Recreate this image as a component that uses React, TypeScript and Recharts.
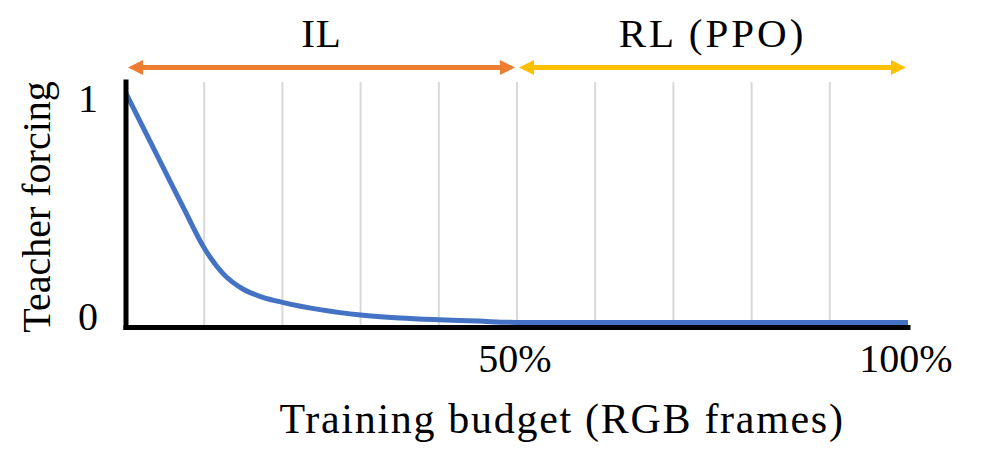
import React from "react";
import {
  ComposedChart,
  Line,
  XAxis,
  YAxis,
  ReferenceLine,
} from "recharts";

// ---- data ----
const budgetPct = [0, 2.5, 5, 7.5, 10, 12.5, 15, 17.5, 20, 25, 30, 35, 40, 45, 50, 60, 70, 80, 90, 100];
const teacherForcing = [1.0, 0.83, 0.66, 0.49, 0.325, 0.21, 0.145, 0.11, 0.088, 0.055, 0.033, 0.02, 0.012, 0.006, 0, 0, 0, 0, 0, 0];
const gridTicks = [10, 20, 30, 40, 50, 60, 70, 80, 90];
const xTicks = [50, 100];
const yTicks = [0, 1];
const phases = [
  { name: "IL", from: 0, to: 50, color: "#ED7D31" },
  { name: "RL (PPO)", from: 50, to: 100, color: "#FFC000" },
];
const phaseLevel = 1.1135;
const xTitle = "Training budget (RGB frames)";
const yTitle = "Teacher forcing";

const data = budgetPct.map((x, i) => ({ x, y: teacherForcing[i] }));

const FONT = "'Liberation Serif', 'DejaVu Serif', serif";

const ArrowShape = (color: string, label: string) => (props: any) => {
  const { x1, y1, x2 } = props;
  const y = y1;
  const ax1 = x1 + 2;
  const ax2 = x2 - 2;
  const hl = 15;
  const hh = 7.5;
  return (
    <g>
      <line x1={ax1 + hl - 2} y1={y} x2={ax2 - hl + 2} y2={y} stroke={color} strokeWidth={5} />
      <polygon points={`${ax1},${y} ${ax1 + hl},${y - hh} ${ax1 + hl},${y + hh}`} fill={color} />
      <polygon points={`${ax2},${y} ${ax2 - hl},${y - hh} ${ax2 - hl},${y + hh}`} fill={color} />
      <text
        x={(x1 + x2) / 2}
        y={y - 20}
        textAnchor="middle"
        fontFamily={FONT}
        fontSize={41}
        letterSpacing={label.length > 2 ? 3 : 1}
        fill="#000"
      >
        {label}
      </text>
    </g>
  );
};

const XTick = (props: any) => {
  const { x, y, payload } = props;
  return (
    <text x={x - 2} y={y + 44} textAnchor="middle" fontFamily={FONT} fontSize={40} fill="#000">
      {`${payload.value}%`}
    </text>
  );
};

const YTick = (props: any) => {
  const { x, y, payload } = props;
  const dy = payload.value === 1 ? 18.5 : 7.5;
  return (
    <text x={x - 38} y={y + dy} textAnchor="middle" fontFamily={FONT} fontSize={40} fill="#000">
      {payload.value}
    </text>
  );
};

const XTitle = (props: any) => {
  const vb = props.viewBox || { x: 126, y: 327.5, width: 782 };
  return (
    <text
      x={vb.x + vb.width / 2 + 45}
      y={vb.y + 105}
      textAnchor="middle"
      fontFamily={FONT}
      fontSize={42}
      letterSpacing={1.7}
      fill="#000"
    >
      {xTitle}
    </text>
  );
};

const YTitle = () => {
  const cx = 50;
  const cy = 207;
  return (
    <text
      x={cx}
      y={cy}
      transform={`rotate(-90 ${cx} ${cy})`}
      textAnchor="middle"
      fontFamily={FONT}
      fontSize={40}
      fill="#000"
    >
      {yTitle}
    </text>
  );
};

export default function App() {
  return (
    <div style={{ width: 987, height: 472, background: "#fff" }}>
      <style>{`body{margin:0;}`}</style>
      <ComposedChart
        width={987}
        height={472}
        data={data}
        margin={{ top: 82, right: 79, bottom: 0, left: 0 }}
      >
        <XAxis
          dataKey="x"
          type="number"
          domain={[0, 100]}
          ticks={xTicks}
          tick={<XTick />}
          tickLine={false}
          tickSize={0}
          tickMargin={0}
          axisLine={{ stroke: "#000", strokeWidth: 5, strokeLinecap: "square" }}
          height={144.5}
          label={<XTitle />}
          allowDataOverflow
        />
        <YAxis
          type="number"
          domain={[-0.022, 1.05]}
          ticks={yTicks}
          tick={<YTick />}
          tickLine={false}
          tickSize={0}
          tickMargin={0}
          axisLine={{ stroke: "#000", strokeWidth: 5, strokeLinecap: "square" }}
          width={126}
          label={<YTitle />}
          allowDataOverflow
        />
        {gridTicks.map((g) => (
          <ReferenceLine key={g} x={g} stroke="#d9d9d9" strokeWidth={2} />
        ))}
        <Line
          type="monotone"
          dataKey="y"
          stroke="#4472C4"
          strokeWidth={5}
          dot={false}
          isAnimationActive={false}
        />
        {phases.map((p) => (
          <ReferenceLine
            key={p.name}
            segment={[
              { x: p.from, y: phaseLevel },
              { x: p.to, y: phaseLevel },
            ]}
            ifOverflow="visible"
            shape={ArrowShape(p.color, p.name)}
          />
        ))}
      </ComposedChart>
    </div>
  );
}
